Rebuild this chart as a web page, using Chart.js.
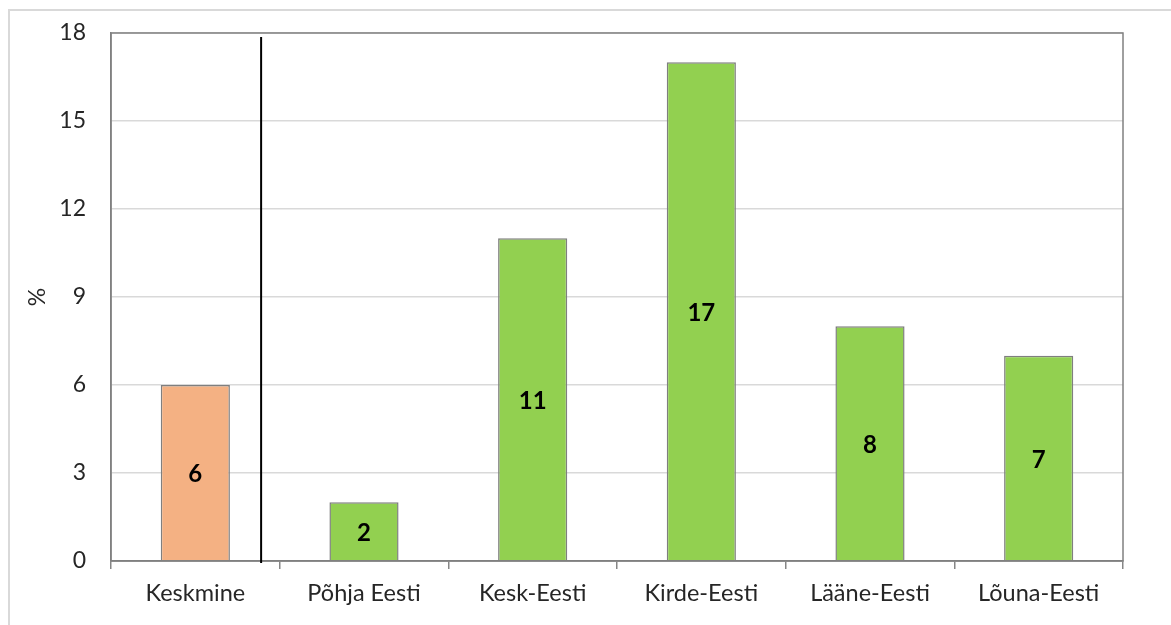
<html>
<head>
	<meta charset="utf-8">
	<script src="https://cdn.jsdelivr.net/npm/chart.js@4.4.1/dist/chart.umd.min.js"></script>
	<style>
		body { margin: 0; background: #fff; }
		#wrap { width: 1171px; height: 625px; position: relative; }
	</style>
</head>
<body>
	<div id="wrap">
		<canvas id="myChart" width="1171" height="625"></canvas>
	</div>
</body>
<script>

const regions = ['Keskmine', 'Põhja Eesti', 'Kesk-Eesti', 'Kirde-Eesti', 'Lääne-Eesti', 'Lõuna-Eesti'];
const shares = [6, 2, 11, 17, 8, 7];
const yTicks = [0, 3, 6, 9, 12, 15, 18];

const font = "Lato, 'Open Sans', sans-serif";

// orange for the average, green for the regions
const barColors = regions.map((r, i) => i === 0 ? '#F4B183' : '#92D050');

// outer frame, plot box, separator line and bar labels
const extras = {
  id: 'extras',
  beforeDraw(chart) {
    const c = chart.ctx;
    c.save();
    c.fillStyle = '#fff';
    c.fillRect(0, 0, chart.width, chart.height);
    c.strokeStyle = '#d9d9d9';
    c.lineWidth = 2;
    c.strokeRect(9, 10, chart.width + 20, chart.height + 20);
    c.restore();
  },
  afterDatasetsDraw(chart) {
    const c = chart.ctx;
    const a = chart.chartArea;
    const x = chart.scales.x;
    c.save();
    // plot box
    c.strokeStyle = '#808080';
    c.lineWidth = 1.5;
    c.strokeRect(a.left, a.top, a.right - a.left, a.bottom - a.top);
    // separator between average and regions
    const p0 = x.getPixelForValue(0), p1 = x.getPixelForValue(1);
    const sx = p0 + 0.39 * (p1 - p0);
    c.strokeStyle = '#000';
    c.lineWidth = 2;
    c.beginPath();
    c.moveTo(sx, a.top + 4);
    c.lineTo(sx, a.bottom + 2);
    c.stroke();
    // value labels
    c.fillStyle = '#000';
    c.font = 'bold 24px ' + font;
    c.textAlign = 'center';
    c.textBaseline = 'middle';
    chart.getDatasetMeta(0).data.forEach((bar, i) => {
      c.fillText(shares[i], bar.x, (bar.y + bar.base) / 2 + 2);
    });
    c.restore();
  }
};

const config = {
  type: 'bar',
  data: {
    labels: regions,
    datasets: [{
      data: shares,
      backgroundColor: barColors,
      borderColor: '#7f7f7f',
      borderWidth: 1.5,
      barPercentage: 0.41,
      categoryPercentage: 1
    }]
  },
  options: {
    responsive: false,
    animation: false,
    layout: { padding: { left: 14, top: 33, right: 48, bottom: 10 } },
    plugins: {
      legend: { display: false },
      tooltip: { enabled: false }
    },
    scales: {
      x: {
        grid: { drawOnChartArea: false, drawTicks: true, tickLength: 8, color: '#868686', lineWidth: 1.5 },
        border: { color: '#808080', width: 1.5 },
        ticks: { color: '#262626', font: { family: font, size: 23.5 }, padding: 10 },
        afterFit(s) { s.height = 54; }
      },
      y: {
        min: 0,
        max: 18,
        afterBuildTicks(s) { s.ticks = yTicks.map(v => ({ value: v })); },
        grid: { color: '#d9d9d9', lineWidth: 1.5, drawTicks: false },
        border: { color: '#808080', width: 1.5 },
        ticks: { color: '#262626', font: { family: font, size: 23 }, padding: 25 },
        title: { display: true, text: '%', color: '#262626', font: { family: font, size: 23 }, padding: { top: 10 } },
        afterFit(s) { s.width = 97; s.paddingTop = 0; }
      }
    }
  },
  plugins: [extras]
};

var ctx = document.getElementById('myChart');
var myChart = new Chart(ctx, config);

</script>
</html>
